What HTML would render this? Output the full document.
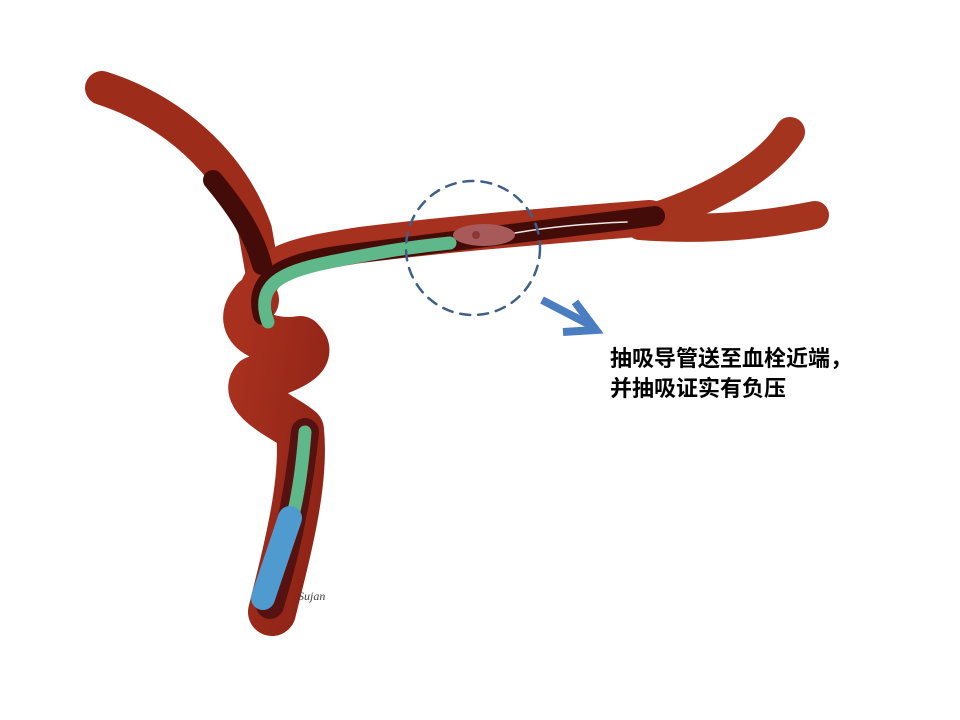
<!DOCTYPE html>
<html><head><meta charset="utf-8"><style>
html,body{margin:0;padding:0;background:#fff;}
svg{display:block;}
</style></head><body>
<svg width="960" height="720" viewBox="0 0 960 720" xmlns="http://www.w3.org/2000/svg">
<defs>
<linearGradient id="g1" x1="0" y1="0" x2="1" y2="1"><stop offset="0" stop-color="#a8301f"/><stop offset="1" stop-color="#8e2416"/></linearGradient>
</defs>
<g fill="none" stroke-linecap="round" stroke-linejoin="round">
<!-- upper right forks -->
<path d="M640,222 C700,205 765,172 790,132" stroke="#a5341f" stroke-width="30"/>
<path d="M640,226 C720,232 780,222 815,215" stroke="#a5341f" stroke-width="28"/>
<!-- upper left branch -->
<path d="M102,88 C170,110 230,160 255,230 L262,270" stroke="#9e2c1b" stroke-width="34"/>
<!-- main horizontal -->
<path d="M255,300 C260,260 300,255 360,245 C440,235 520,228 650,218" stroke="#a6311e" stroke-width="36"/>
<!-- loop & descending trunk -->
<path d="M255,300 C230,330 270,345 300,340 C320,360 280,370 255,380 C240,400 290,420 300,430 C305,480 290,540 272,612" stroke="url(#g1)" stroke-width="48"/>
<!-- dark lumens -->
<path d="M213,180 C238,210 254,235 262,265" stroke="#440c09" stroke-width="20"/>
<path d="M263,315 C252,275 290,262 350,254 C440,243 520,232 655,216" stroke="#440c09" stroke-width="20"/>
<path d="M305,432 C300,480 290,540 270,605" stroke="#551210" stroke-width="28"/>
<!-- green catheter -->
<path d="M268,322 C255,285 280,272 330,262 C380,252 410,247 450,243" stroke="#5fb88a" stroke-width="13"/>
<path d="M305,432 C302,470 298,495 293,515" stroke="#5fb88a" stroke-width="13"/>
<!-- blue catheter -->
<path d="M290,518 L263,598" stroke="#4f9bd0" stroke-width="24"/>
<!-- wire -->
<path d="M515,233 C560,225 600,223 627,222" stroke="#f0e6e6" stroke-width="1.5"/>
<!-- clot -->
<ellipse cx="484" cy="235" rx="31" ry="11" fill="#a85a5a" stroke="none"/>
<circle cx="476" cy="235" r="4" fill="#8a3838" stroke="none"/>
<!-- dashed circle -->
<circle cx="473" cy="248" r="67" stroke="#3f5f86" stroke-width="2.5" stroke-dasharray="10,8"/>
<!-- arrow -->
<path d="M542,300 L592,326" stroke="#4a7ec0" stroke-width="8" stroke-linecap="butt"/>
<path d="M575,302 L596,330 L563,332" stroke="#4a7ec0" stroke-width="8" stroke-linecap="butt" stroke-linejoin="miter"/>
</g>
<text x="298" y="600" font-family="Liberation Serif, serif" font-style="italic" font-size="12" fill="#444">Sujan</text>
<text x="610" y="366" font-family="Liberation Sans, Noto Sans CJK SC, sans-serif" font-size="22" font-weight="bold" fill="#000">抽吸导管送至血栓近端，</text>
<text x="610" y="396" font-family="Liberation Sans, Noto Sans CJK SC, sans-serif" font-size="22" font-weight="bold" fill="#000">并抽吸证实有负压</text>
</svg>
</body></html>
